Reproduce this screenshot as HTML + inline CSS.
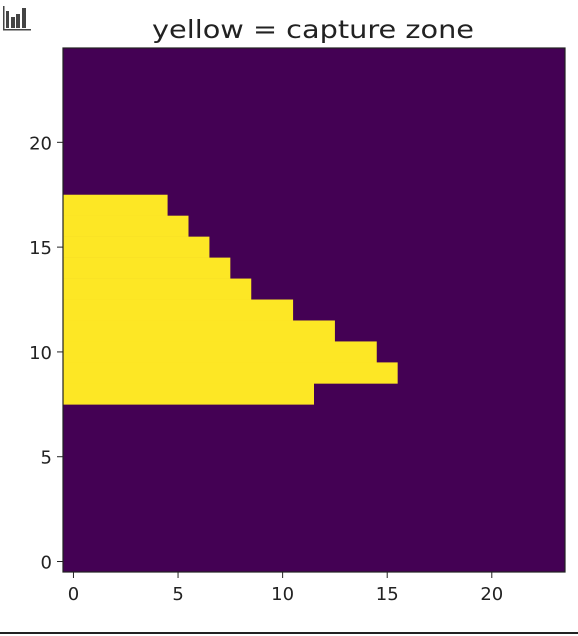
<!DOCTYPE html>
<html><head><meta charset="utf-8"><style>
html,body{margin:0;padding:0;background:#fff;width:578px;height:636px;overflow:hidden}
</style></head><body>
<svg width="578" height="636" style="position:absolute;left:0;top:0;font-family:'DejaVu Sans','Liberation Sans',sans-serif">
<g fill="#444">
<rect x="6" y="11" width="3" height="17"/><rect x="11" y="17" width="4" height="11"/><rect x="16" y="14" width="4" height="14"/><rect x="22" y="8" width="4" height="20"/><rect x="3" y="29" width="28" height="1.5"/><rect x="3" y="6" width="1.5" height="24"/>
</g>
<text x="313" y="38" font-size="25" text-anchor="middle" textLength="322" lengthAdjust="spacingAndGlyphs" fill="#222">yellow = capture zone</text>
<g id="plot"></g>
<rect x="0" y="632" width="578" height="2" fill="#222"/>
</svg>
<script>
// yellow extent per row: rows (y values) and max x column included
const rows = [8, 9, 10, 11, 12, 13, 14, 15, 16, 17];
const rowMaxX = [11, 15, 14, 12, 10, 8, 7, 6, 5, 4];
const nCols = 24, nRows = 25;
const xTicks = [0, 5, 10, 15, 20];
const yTicks = [0, 5, 10, 15, 20];
const L = 63, R = 565, T = 48, B = 572;
const sx = v => L + (v + 0.5) * (R - L) / nCols;
const sy = v => B - (v + 0.5) * (B - T) / nRows;
const NS = 'http://www.w3.org/2000/svg';
const g = document.getElementById('plot');
function mk(tag, attrs) { const e = document.createElementNS(NS, tag); for (const k in attrs) e.setAttribute(k, attrs[k]); g.appendChild(e); return e; }
const bg = mk('rect', {x: L, y: T, width: R - L, height: B - T, fill: '#440154'});


rows.forEach((r, i) => {
  const x0 = sx(-0.5), x1 = sx(rowMaxX[i] + 0.5);
  const y0 = sy(r + 0.5), y1 = sy(r - 0.5);
  const c = mk('rect', {x: x0, y: y0, width: x1 - x0, height: y1 - y0 + 0.3, fill: '#fde725'});
  
  
});
const fr = mk('rect', {x: L, y: T, width: R - L, height: B - T, fill: 'none', stroke: '#222', 'stroke-width': 1.2});


xTicks.forEach(t => {
  const x = sx(t);
  const tk = mk('line', {x1: x, x2: x, y1: B, y2: B + 6, stroke: '#222'});
  
  
  const lb = mk('text', {x: x, y: B + 28, 'font-size': 18, 'text-anchor': 'middle', fill: '#222'});
  lb.textContent = t;
  
  
});
yTicks.forEach(t => {
  const y = sy(t);
  const tk = mk('line', {x1: L - 6, x2: L, y1: y, y2: y, stroke: '#222'});
  
  
  const lb = mk('text', {x: L - 11, y: y + 7, 'font-size': 18, 'text-anchor': 'end', fill: '#222'});
  lb.textContent = t;
  
  
});
</script>
</body></html>
